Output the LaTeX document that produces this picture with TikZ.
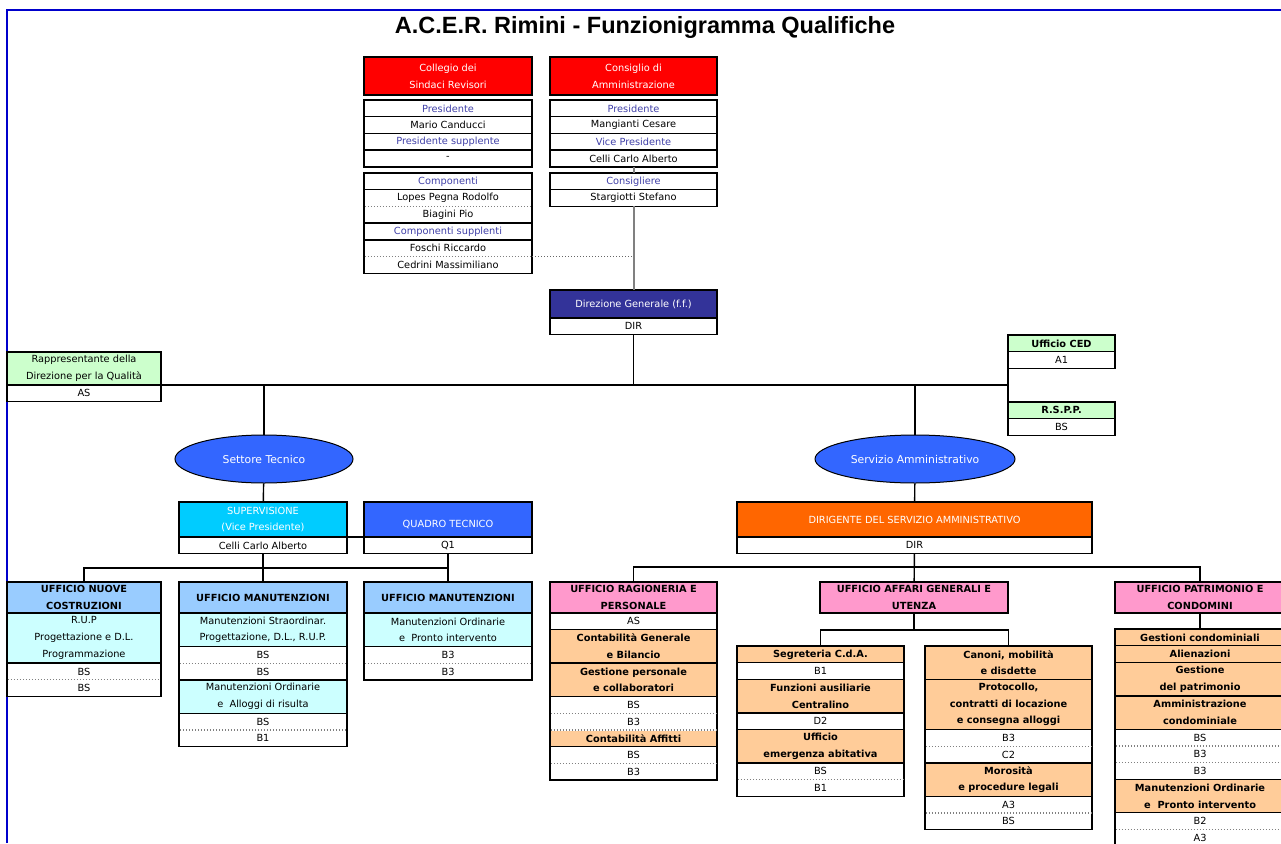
\documentclass[tikz,border=0pt]{standalone}
\usepackage{fontspec}
\setmainfont{DejaVu Sans}
\newfontfamily\titlefont{Liberation Sans}
\usetikzlibrary{positioning,shapes.geometric}

\definecolor{acred}{HTML}{FF0000}
\definecolor{acnavy}{HTML}{333399}
\definecolor{acgreen}{HTML}{CCFFCC}
\definecolor{acblue}{HTML}{3366FF}
\definecolor{acsky}{HTML}{00CCFF}
\definecolor{acpale}{HTML}{99CCFF}
\definecolor{accyan}{HTML}{CCFFFF}
\definecolor{acorange}{HTML}{FF6600}
\definecolor{acpink}{HTML}{FF99CC}
\definecolor{acpeach}{HTML}{FFCC99}
\definecolor{aclabel}{HTML}{4040A8}
\definecolor{acframe}{HTML}{0000CC}

\newcommand{\cellfont}{\fontsize{9.8}{16.7}\selectfont}

\tikzset{
  box/.style={draw, line width=1.4pt, inner sep=0pt, outer sep=0pt, align=center,
    font=\cellfont, minimum height=16.7pt},
  wA/.style={minimum width=154pt}, wB/.style={minimum width=168pt},
  wC/.style={minimum width=168pt}, wD/.style={minimum width=167pt},
  wE/.style={minimum width=167pt}, wF/.style={minimum width=167pt},
  wG/.style={minimum width=170pt}, wced/.style={minimum width=107pt},
  two/.style={minimum height=33.4pt}, three/.style={minimum height=50.1pt},
  grade/.style={box, fill=white},
  member/.style={box, fill=white},
  role/.style={box, fill=white, text=aclabel},
  redhead/.style={box, fill=acred, text=white, minimum height=38pt},
  darkhead/.style={box, fill=acnavy, text=white, minimum height=28pt},
  greenhead/.style={box, fill=acgreen},
  unit/.style={box, fill=acpale, font=\cellfont\bfseries, minimum height=31pt},
  office/.style={box, fill=acpink, font=\cellfont\bfseries, minimum height=31pt},
  cyanduty/.style={box, fill=accyan},
  duty/.style={box, fill=acpeach, font=\cellfont\bfseries},
  sector/.style={ellipse, draw, line width=1pt, fill=acblue, text=white,
    minimum height=48pt, inner sep=0pt, font=\fontsize{10.8}{12}\selectfont},
  link/.style={draw, line width=1.4pt},
  greyline/.style={draw=black!50, line width=2pt},
  dotline/.style={draw=black!60, line width=0.7pt, dash pattern=on 1pt off 2pt},
  dotsep/.style={preaction={draw=white, solid, line width=2pt}, draw=black!50,
    line width=1.2pt, dash pattern=on 1.5pt off 1.5pt, shorten <=0.8pt, shorten >=0.8pt}
}

\begin{document}
\begin{tikzpicture}[x=1pt,y=-1pt]
  \useasboundingbox (0,0) rectangle (1281,843);
  \draw[acframe, line width=1.5pt] (7,843) -- (7,10) -- (1281,10);
  \node[font=\titlefont\bfseries\fontsize{23.5}{26}\selectfont] (title) at (645,27)
    {A.C.E.R. Rimini - Funzionigramma Qualifiche};

  \node[redhead, wC, anchor=north west] (cds) at (364,57) {Collegio dei\\Sindaci Revisori};
  \node[role, wC, anchor=north west] (cdsp) at (364,100) {Presidente};
  \node[member, wC, below=0pt of cdsp] (cdsp1) {Mario Canducci};
  \node[role, wC, below=0pt of cdsp1] (cdss) {Presidente supplente};
  \node[member, wC, below=0pt of cdss] (cdss1) {-};
  \node[role, wC, anchor=north west] (cdsc) at (364,173) {Componenti};
  \node[member, wC, below=0pt of cdsc] (cdsc1) {Lopes Pegna Rodolfo};
  \node[member, wC, below=0pt of cdsc1] (cdsc2) {Biagini Pio};
  \node[role, wC, below=0pt of cdsc2] (cdsu) {Componenti supplenti};
  \node[member, wC, below=0pt of cdsu] (cdsu1) {Foschi Riccardo};
  \node[member, wC, below=0pt of cdsu1] (cdsu2) {Cedrini Massimiliano};

  \node[redhead, wD, anchor=north west] (cda) at (550,57) {Consiglio di\\Amministrazione};
  \node[role, wD, anchor=north west] (cdap) at (550,100) {Presidente};
  \node[member, wD, below=0pt of cdap] (cdap1) {Mangianti Cesare};
  \node[role, wD, below=0pt of cdap1] (cdav) {Vice Presidente};
  \node[member, wD, below=0pt of cdav] (cdav1) {Celli Carlo Alberto};
  \node[role, wD, anchor=north west] (cdac) at (550,173) {Consigliere};
  \node[member, wD, below=0pt of cdac] (cdac1) {Stargiotti Stefano};

  \node[darkhead, wD, anchor=north west] (dg) at (550,290) {Direzione Generale (f.f.)};
  \node[grade, wD, below=0pt of dg] (dgq) {DIR};

  \node[greenhead, wA, minimum height=33pt, anchor=north west] (rdq) at (7,352)
    {Rappresentante della\\Direzione per la Qualità};
  \node[grade, wA, below=0pt of rdq] (rdqq) {AS};
  \node[greenhead, wced, font=\cellfont\bfseries, anchor=north west] (ced) at (1008,335) {Ufficio CED};
  \node[grade, wced, below=0pt of ced] (cedq) {A1};
  \node[greenhead, wced, font=\cellfont\bfseries, anchor=north west] (rspp) at (1008,402) {R.S.P.P.};
  \node[grade, wced, below=0pt of rspp] (rsppq) {BS};

  \node[sector, minimum width=178pt] (st) at (264,459) {Settore Tecnico};
  \node[sector, minimum width=200pt] (sa) at (915,459) {Servizio Amministrativo};

  \node[box, wB, minimum height=35pt, fill=acsky, text=white, anchor=north west] (sup) at (179,502)
    {SUPERVISIONE\\(Vice Presidente)};
  \node[member, wB, below=0pt of sup] (supq) {Celli Carlo Alberto};
  \node[box, wC, minimum height=35pt, fill=acblue, text=white, anchor=north west] (qt) at (364,502)
    {\mbox{}\\QUADRO TECNICO};
  \node[grade, wC, below=0pt of qt] (qtq) {Q1};

  \node[unit, wA, anchor=north west] (unc) at (7,582) {UFFICIO NUOVE\\COSTRUZIONI};
  \node[cyanduty, wA, three, below=0pt of unc] (unc1) {R.U.P\\Progettazione e D.L.\\Programmazione};
  \node[grade, wA, below=0pt of unc1] (unc2) {BS};
  \node[grade, wA, below=0pt of unc2] (unc3) {BS};

  \node[unit, wB, anchor=north west] (um1) at (179,582) {UFFICIO MANUTENZIONI};
  \node[cyanduty, wB, two, below=0pt of um1] (um1a) {Manutenzioni Straordinar.\\Progettazione, D.L., R.U.P.};
  \node[grade, wB, below=0pt of um1a] (um1b) {BS};
  \node[grade, wB, below=0pt of um1b] (um1c) {BS};
  \node[cyanduty, wB, two, below=0pt of um1c] (um1d) {Manutenzioni Ordinarie\\e~ Alloggi di risulta};
  \node[grade, wB, below=0pt of um1d] (um1e) {BS};
  \node[grade, wB, below=0pt of um1e] (um1f) {B1};

  \node[unit, wC, anchor=north west] (um2) at (364,582) {UFFICIO MANUTENZIONI};
  \node[cyanduty, wC, two, below=0pt of um2] (um2a) {Manutenzioni Ordinarie\\e~ Pronto intervento};
  \node[grade, wC, below=0pt of um2a] (um2b) {B3};
  \node[grade, wC, below=0pt of um2b] (um2c) {B3};

  \node[box, minimum width=355pt, minimum height=35pt, fill=acorange, text=white, anchor=north west]
    (dsa) at (737,502) {DIRIGENTE DEL SERVIZIO AMMINISTRATIVO};
  \node[grade, minimum width=355pt, below=0pt of dsa] (dsaq) {DIR};

  \node[office, wD, anchor=north west] (urp) at (550,582) {UFFICIO RAGIONERIA E\\PERSONALE};
  \node[grade, wD, below=0pt of urp] (urp1) {AS};
  \node[duty, wD, two, below=0pt of urp1] (urp2) {Contabilità Generale\\e Bilancio};
  \node[duty, wD, two, below=0pt of urp2] (urp3) {Gestione personale\\e collaboratori};
  \node[grade, wD, below=0pt of urp3] (urp4) {BS};
  \node[grade, wD, below=0pt of urp4] (urp5) {B3};
  \node[duty, wD, below=0pt of urp5] (urp6) {Contabilità Affitti};
  \node[grade, wD, below=0pt of urp6] (urp7) {BS};
  \node[grade, wD, below=0pt of urp7] (urp8) {B3};

  \node[office, minimum width=188pt, anchor=north west] (uag) at (820,582) {UFFICIO AFFARI GENERALI E\\UTENZA};
  \node[duty, wE, anchor=north west] (uag1) at (737,646) {Segreteria C.d.A.};
  \node[grade, wE, below=0pt of uag1] (uag2) {B1};
  \node[duty, wE, two, below=0pt of uag2] (uag3) {Funzioni ausiliarie\\Centralino};
  \node[grade, wE, below=0pt of uag3] (uag4) {D2};
  \node[duty, wE, two, below=0pt of uag4] (uag5) {Ufficio\\emergenza abitativa};
  \node[grade, wE, below=0pt of uag5] (uag6) {BS};
  \node[grade, wE, below=0pt of uag6] (uag7) {B1};
  \node[duty, wF, two, anchor=north west] (uag8) at (925,646) {Canoni, mobilità\\e disdette};
  \node[duty, wF, three, below=0pt of uag8] (uag9) {Protocollo,\\contratti di locazione\\e consegna alloggi};
  \node[grade, wF, below=0pt of uag9] (uag10) {B3};
  \node[grade, wF, below=0pt of uag10] (uag11) {C2};
  \node[duty, wF, two, below=0pt of uag11] (uag12) {Morosità\\e procedure legali};
  \node[grade, wF, below=0pt of uag12] (uag13) {A3};
  \node[grade, wF, below=0pt of uag13] (uag14) {BS};

  \node[office, wG, anchor=north west] (upc) at (1115,582) {UFFICIO PATRIMONIO E\\CONDOMINI};
  \node[duty, wG, anchor=north west] (upc1) at (1115,629) {Gestioni condominiali};
  \node[duty, wG, below=0pt of upc1] (upc2) {Alienazioni};
  \node[duty, wG, two, below=0pt of upc2] (upc3) {Gestione\\del patrimonio};
  \node[duty, wG, two, below=0pt of upc3] (upc4) {Amministrazione\\condominiale};
  \node[grade, wG, below=0pt of upc4] (upc5) {BS};
  \node[grade, wG, below=0pt of upc5] (upc6) {B3};
  \node[grade, wG, below=0pt of upc6] (upc7) {B3};
  \node[duty, wG, two, below=0pt of upc7] (upc8) {Manutenzioni Ordinarie\\e~ Pronto intervento};
  \node[grade, wG, below=0pt of upc8] (upc9) {B2};
  \node[grade, wG, below=0pt of upc9] (upc10) {A3};

  \foreach \n in {cdsc1,cdsu1,unc2,um1b,um1e,um2b,urp4,urp5,urp7,uag6,uag10,uag13,upc5,upc6,upc9}
    \draw[dotsep] (\n.south west) -- (\n.south east);

  \draw[greyline] (cdav1) -- (cdac);
  \draw[greyline] (cdac1) -- (dg);
  \draw[dotline] (cdsu2.north east) -- (cdsu2.north east -| cdac1.south);
  \draw[link] (dgq) -- (dgq.south |- rdq.south east);
  \draw[link] (rdq.south east) -- (rdq.south east -| ced.west);
  \draw[link] (cedq.south west) -- (rspp.north west);
  \draw[link] (st) -- (st.north |- rdq.south east);
  \draw[link] (sa) -- (sa.north |- rdq.south east);
  \draw[link] (st) -- (sup);
  \draw[link] (sa) -- (dsa);
  \draw[link] (sup.south east) -- (qt.south west);
  \coordinate (tbus) at (263,568);
  \draw[link] (unc.north) |- (tbus) -| (qtq.south);
  \draw[link] (supq) -- (um1);
  \draw[link] (qtq) -- (um2);
  \coordinate (abus) at (914.5,567);
  \draw[link] (urp.north) |- (abus) -| (upc.north);
  \draw[link] (dsaq) -- (uag);
  \coordinate (gbus) at (914,630);
  \draw[link] (uag1.north) |- (gbus) -| (uag8.north);
  \draw[link] (uag) -- (gbus);
  \draw[link] (upc) -- (upc1);
\end{tikzpicture}
\end{document}
